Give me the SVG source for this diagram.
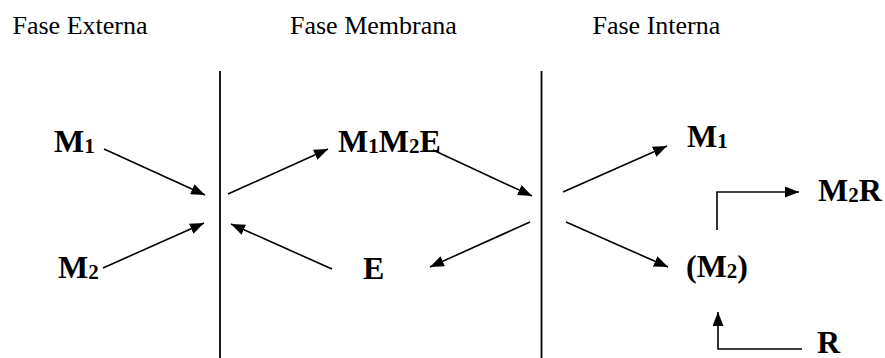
<svg xmlns="http://www.w3.org/2000/svg" width="885" height="358" viewBox="0 0 885 358">
<style>
.title{font-family:"Liberation Serif","Times New Roman",serif;font-size:26px;fill:#000}
.lbl{font-family:"Liberation Serif","Times New Roman",serif;font-size:32px;font-weight:bold;fill:#000}
.sub{font-size:21px}
.mem{stroke:#000;stroke-width:1.8;fill:none}
.arr{stroke:#000;stroke-width:1.6;fill:none;marker-end:url(#ah)}
</style>
<defs>
<marker id="ah" markerUnits="userSpaceOnUse" markerWidth="15" markerHeight="11" refX="14" refY="5.5" orient="auto">
<path d="M0,0 L14,5.5 L0,11 Z" fill="#000"/>
</marker>
</defs>
<g id="titles">
<text class="title" x="12.5" y="34">Fase Externa</text>
<text class="title" x="290" y="34">Fase Membrana</text>
<text class="title" x="592.5" y="34">Fase Interna</text>
</g>
<g id="membranes">
<line class="mem" x1="220" y1="71" x2="220" y2="358"/>
<line class="mem" x1="541.5" y1="71" x2="541.5" y2="358"/>
</g>
<g id="node-M1-ext"><text class="lbl" x="54" y="152">M<tspan class="sub" dy="1">1</tspan></text></g>
<g id="node-M2-ext"><text class="lbl" x="58" y="278">M<tspan class="sub" dy="1">2</tspan></text></g>
<g id="node-M1M2E"><text class="lbl" x="338" y="152">M<tspan class="sub" dy="1">1</tspan><tspan dy="-1">M</tspan><tspan class="sub" dy="1">2</tspan><tspan dy="-1">E</tspan></text></g>
<g id="node-E"><text class="lbl" x="363" y="279">E</text></g>
<g id="node-M1-int"><text class="lbl" x="687" y="147">M<tspan class="sub" dy="1">1</tspan></text></g>
<g id="node-M2-int"><text class="lbl" x="686" y="277">(M<tspan class="sub" dy="1">2</tspan><tspan dy="-1">)</tspan></text></g>
<g id="node-M2R"><text class="lbl" x="818" y="201">M<tspan class="sub" dy="1">2</tspan><tspan dy="-1">R</tspan></text></g>
<g id="node-R"><text class="lbl" x="817" y="353">R</text></g>
<g id="connectors">
<line class="arr" x1="104" y1="149" x2="205" y2="195"/>
<line class="arr" x1="103" y1="268" x2="204" y2="223"/>
<line class="arr" x1="228" y1="194" x2="328" y2="149"/>
<line class="arr" x1="332" y1="269" x2="231" y2="224"/>
<line class="arr" x1="433" y1="150" x2="532" y2="196"/>
<line class="arr" x1="530" y1="222" x2="430" y2="267"/>
<line class="arr" x1="563" y1="192" x2="667" y2="146"/>
<line class="arr" x1="566" y1="222" x2="668" y2="267"/>
<polyline class="arr" points="717,230 717,192 799,192"/>
<polyline class="arr" points="802,349 718,349 718,312"/>
</g>
</svg>
